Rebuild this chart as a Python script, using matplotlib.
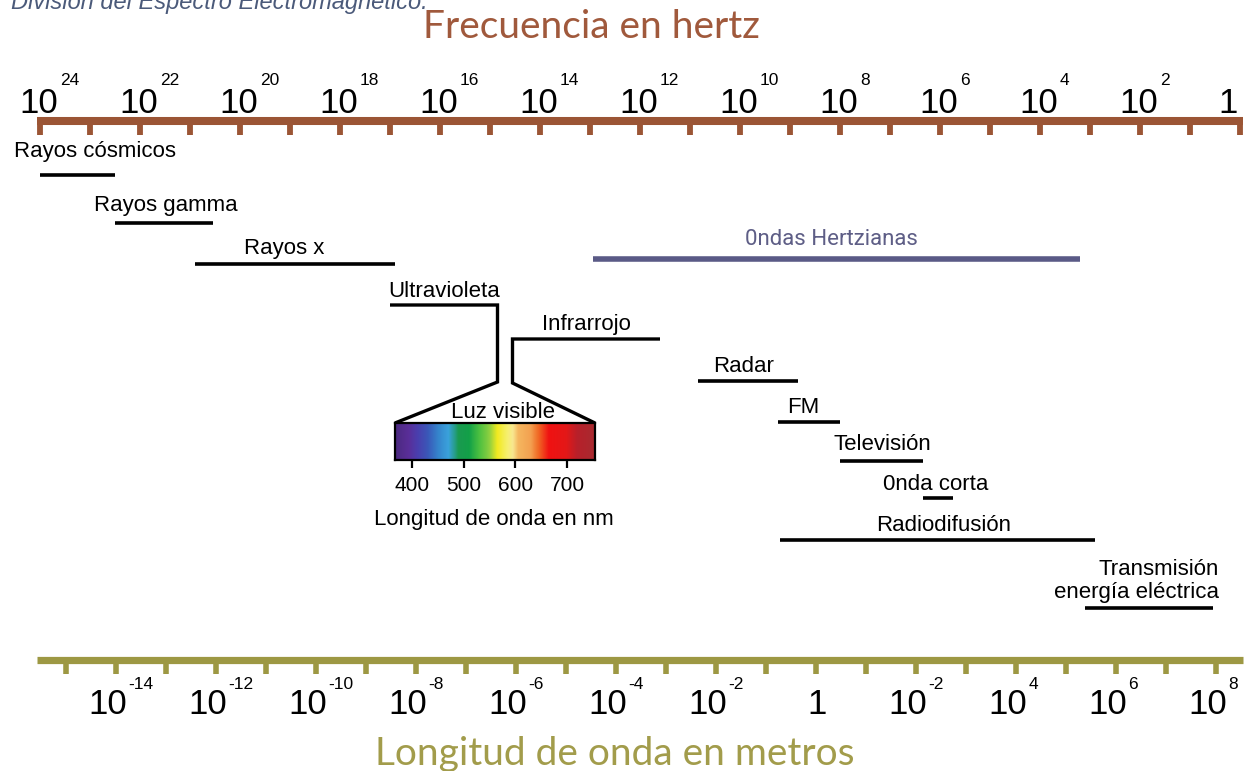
import numpy as np
import matplotlib
matplotlib.use("Agg")
import matplotlib.pyplot as plt
from matplotlib.colors import LinearSegmentedColormap, Normalize

# ---------------- data ----------------
title = "División del Espectro Electromagnético."
freq_title = "Frecuencia en hertz"
wave_title = "Longitud de onda en metros"

# frequency axis (log10 Hz)
freq_tick_decades = list(range(0, 25))
freq_label_decades = [24, 22, 20, 18, 16, 14, 12, 10, 8, 6, 4, 2, 0]
freq_label_base = ["10"] * 12 + ["1"]
freq_label_exp = ["24", "22", "20", "18", "16", "14", "12", "10", "8", "6", "4", "2", ""]

# wavelength axis (log10 m)
speed_of_light = 2.998e8
wave_tick_exponents = list(range(-15, 9))
wave_label_exponents = [-14, -12, -10, -8, -6, -4, -2, 0, 2, 4, 6, 8]
wave_label_base = ["10"] * 7 + ["1"] + ["10"] * 4
wave_label_exp = ["-14", "-12", "-10", "-8", "-6", "-4", "-2", "", "-2", "4", "6", "8"]

# bands: start / end in log10(Hz)
band_names = ["Rayos cósmicos", "Rayos gamma", "Rayos x", "Ultravioleta", "Infrarrojo",
              "0ndas Hertzianas", "Radar", "FM", "Televisión", "0nda corta",
              "Radiodifusión", "Transmisión\nenergía eléctrica"]
band_start = [24.0, 22.5, 20.9, 17.0, 14.55, 12.95, 10.85, 9.25, 8.0, 6.35, 9.2, 3.1]
band_end = [22.5, 20.55, 16.9, 14.85, 11.6, 3.2, 8.85, 8.0, 6.35, 5.75, 2.9, 0.55]

# visible light (nm)
visible_range = [367, 754]
visible_ticks = [400, 500, 600, 700]
visible_stop_nm = [367, 392, 410, 430, 450, 470, 490, 510, 530, 550, 565, 585, 595,
                   605, 630, 645, 665, 700, 720, 754]
visible_stop_colors = ["#4b2a80", "#5a2e98", "#4a3fae", "#3a58b8", "#3585cc", "#3aa2dc",
                       "#1a9a50", "#12a048", "#4cc040", "#8ed040", "#f2ea20", "#f6f070",
                       "#f8e890", "#f5b860", "#f3a050", "#f06a25", "#f01212", "#e31818",
                       "#b8202a", "#a82a30"]

# ---------------- layout (pixels) ----------------
W, H = 1251, 771
PX_PER_DEC = 50.0
LEFT_DEC = 24.8

band_row_y = [175, 223, 264, 305, 339, 259, 381, 422, 461, 498, 540, 608]
band_label_pos = [(14, 157, "left"), (94, 211, "left"), (244, 254, "left"),
                  (388, 297, "left"), (542, 330, "left"), (745, 245, "left"),
                  (713, 372, "left"), (787, 413, "left"), (833, 450, "left"),
                  (883, 490, "left"), (876, 531, "left"), (1219, 575, "right")]

BROWN = "#9b5535"
BROWN_T = "#a0593c"
OLIVE = "#9d9843"
OLIVE_T = "#a29c4b"
HERTZ = "#5a5a86"
LABEL_FONT = ["Liberation Sans", "DejaVu Sans"]
TITLE_FONT = ["Lato", "DejaVu Sans"]


def px2d(px):
    return LEFT_DEC - px / PX_PER_DEC


fig = plt.figure(figsize=(W / 100, H / 100), dpi=100)
fig.patch.set_facecolor("white")
ax = fig.add_axes([0, 0, 1, 1])
ax.set_xlim(LEFT_DEC, LEFT_DEC - W / PX_PER_DEC)
ax.set_ylim(H, 0)
ax.axis("off")

# title (partially cut off at top)
ax.text(px2d(11), 9, title, ha="left", va="baseline", fontsize=17, style="italic",
        color="#4b5a7a", family=LABEL_FONT)

# ---------- frequency axis ----------
ax.text(px2d(591), 38, freq_title, ha="center", va="baseline", fontsize=28,
        color=BROWN_T, family=TITLE_FONT)
ax.hlines(121, 24.06, -0.06, color=BROWN, lw=5.8, capstyle="butt")
ax.vlines(freq_tick_decades, 121, 135, color=BROWN, lw=4.2, capstyle="butt")
for d, b, e in zip(freq_label_decades, freq_label_base, freq_label_exp):
    if e:
        ax.text(d - 18 / PX_PER_DEC, 113, b, ha="right", va="baseline", fontsize=25,
                family=LABEL_FONT, color="black")
        ax.text(d - 20 / PX_PER_DEC, 85, e, ha="left", va="baseline", fontsize=12.5,
                family=LABEL_FONT, color="black")
    else:
        ax.text(d + 2 / PX_PER_DEC, 113, b, ha="right", va="baseline", fontsize=25,
                family=LABEL_FONT, color="black")

# ---------- wavelength axis ----------
logc = np.log10(speed_of_light)
wave_tick_d = [logc - e for e in wave_tick_exponents]
ax.hlines(659.5, 24.06, -0.06, color=OLIVE, lw=5.2, capstyle="butt")
ax.vlines(wave_tick_d, 659, 674, color=OLIVE, lw=4.0, capstyle="butt")
for e_val, b, e in zip(wave_label_exponents, wave_label_base, wave_label_exp):
    d = logc - e_val
    if e:
        ax.text(d - 11 / PX_PER_DEC, 714, b, ha="right", va="baseline", fontsize=25,
                family=LABEL_FONT, color="black")
        ax.text(d - 12 / PX_PER_DEC, 689, e, ha="left", va="baseline", fontsize=12.5,
                family=LABEL_FONT, color="black")
    else:
        ax.text(d - 1 / PX_PER_DEC, 714, b, ha="center", va="baseline", fontsize=25,
                family=LABEL_FONT, color="black")
ax.text(px2d(615), 765, wave_title, ha="center", va="baseline", fontsize=28,
        color=OLIVE_T, family=TITLE_FONT)

# ---------- visible spectrum inset ----------
sx0, sy0, sx1, sy1 = 395, 423, 595, 460
spec = fig.add_axes([sx0 / W, 1 - sy1 / H, (sx1 - sx0) / W, (sy1 - sy0) / H])
pos = [(v - visible_range[0]) / (visible_range[1] - visible_range[0]) for v in visible_stop_nm]
cmap = LinearSegmentedColormap.from_list("visible", list(zip(pos, visible_stop_colors)))
grad = np.linspace(visible_range[0], visible_range[1], 500)[None, :]
spec.imshow(grad, cmap=cmap, norm=Normalize(*visible_range), aspect="auto",
            extent=(visible_range[0], visible_range[1], 0, 1), interpolation="bilinear")
spec.set_xlim(*visible_range)
spec.set_ylim(0, 1)
spec.set_yticks([])
spec.set_xticks(visible_ticks)
spec.set_xticklabels([str(v) for v in visible_ticks], fontsize=15, family=LABEL_FONT)
spec.tick_params(axis="x", length=5.8, width=1.6, pad=6, color="black")
for s in spec.spines.values():
    s.set_linewidth(1.6)
    s.set_color("black")

# spectrum corners in main data coords
inv = ax.transData.inverted()
tl = inv.transform(spec.transAxes.transform((0, 1)))
tr = inv.transform(spec.transAxes.transform((1, 1)))

ax.text(px2d(503), 418, "Luz visible", ha="center", va="baseline", fontsize=16,
        family=LABEL_FONT, color="black")
ax.text(px2d(494), 525, "Longitud de onda en nm", ha="center", va="baseline",
        fontsize=16, family=LABEL_FONT, color="black")

# ---------- bands ----------
for i, (name, s, e) in enumerate(zip(band_names, band_start, band_end)):
    y = band_row_y[i]
    if name == "Ultravioleta":
        ax.plot([s, e, e, tl[0]], [y, y, 382, tl[1]], color="black", lw=2.4,
                solid_joinstyle="miter", solid_capstyle="butt")
    elif name == "Infrarrojo":
        ax.plot([e, s, s, tr[0]], [y, y, 383, tr[1]], color="black", lw=2.4,
                solid_joinstyle="miter", solid_capstyle="butt")
    elif name.startswith("0ndas"):
        ax.hlines(y, s, e, color=HERTZ, lw=4.0, capstyle="butt")
    else:
        ax.hlines(y, s, e, color="black", lw=2.6, capstyle="butt")

    lx, ly, ha = band_label_pos[i]
    if name.startswith("0ndas"):
        ax.text(px2d(lx), ly, name, ha=ha, va="baseline", fontsize=16,
                family=["Roboto", "DejaVu Sans"], color="#5e5e86")
    else:
        for j, line in enumerate(name.split("\n")):
            ax.text(px2d(lx), ly + 23 * j, line, ha=ha, va="baseline", fontsize=16,
                    family=LABEL_FONT, color="black")

fig.savefig("out.png", dpi=100, facecolor="white")
